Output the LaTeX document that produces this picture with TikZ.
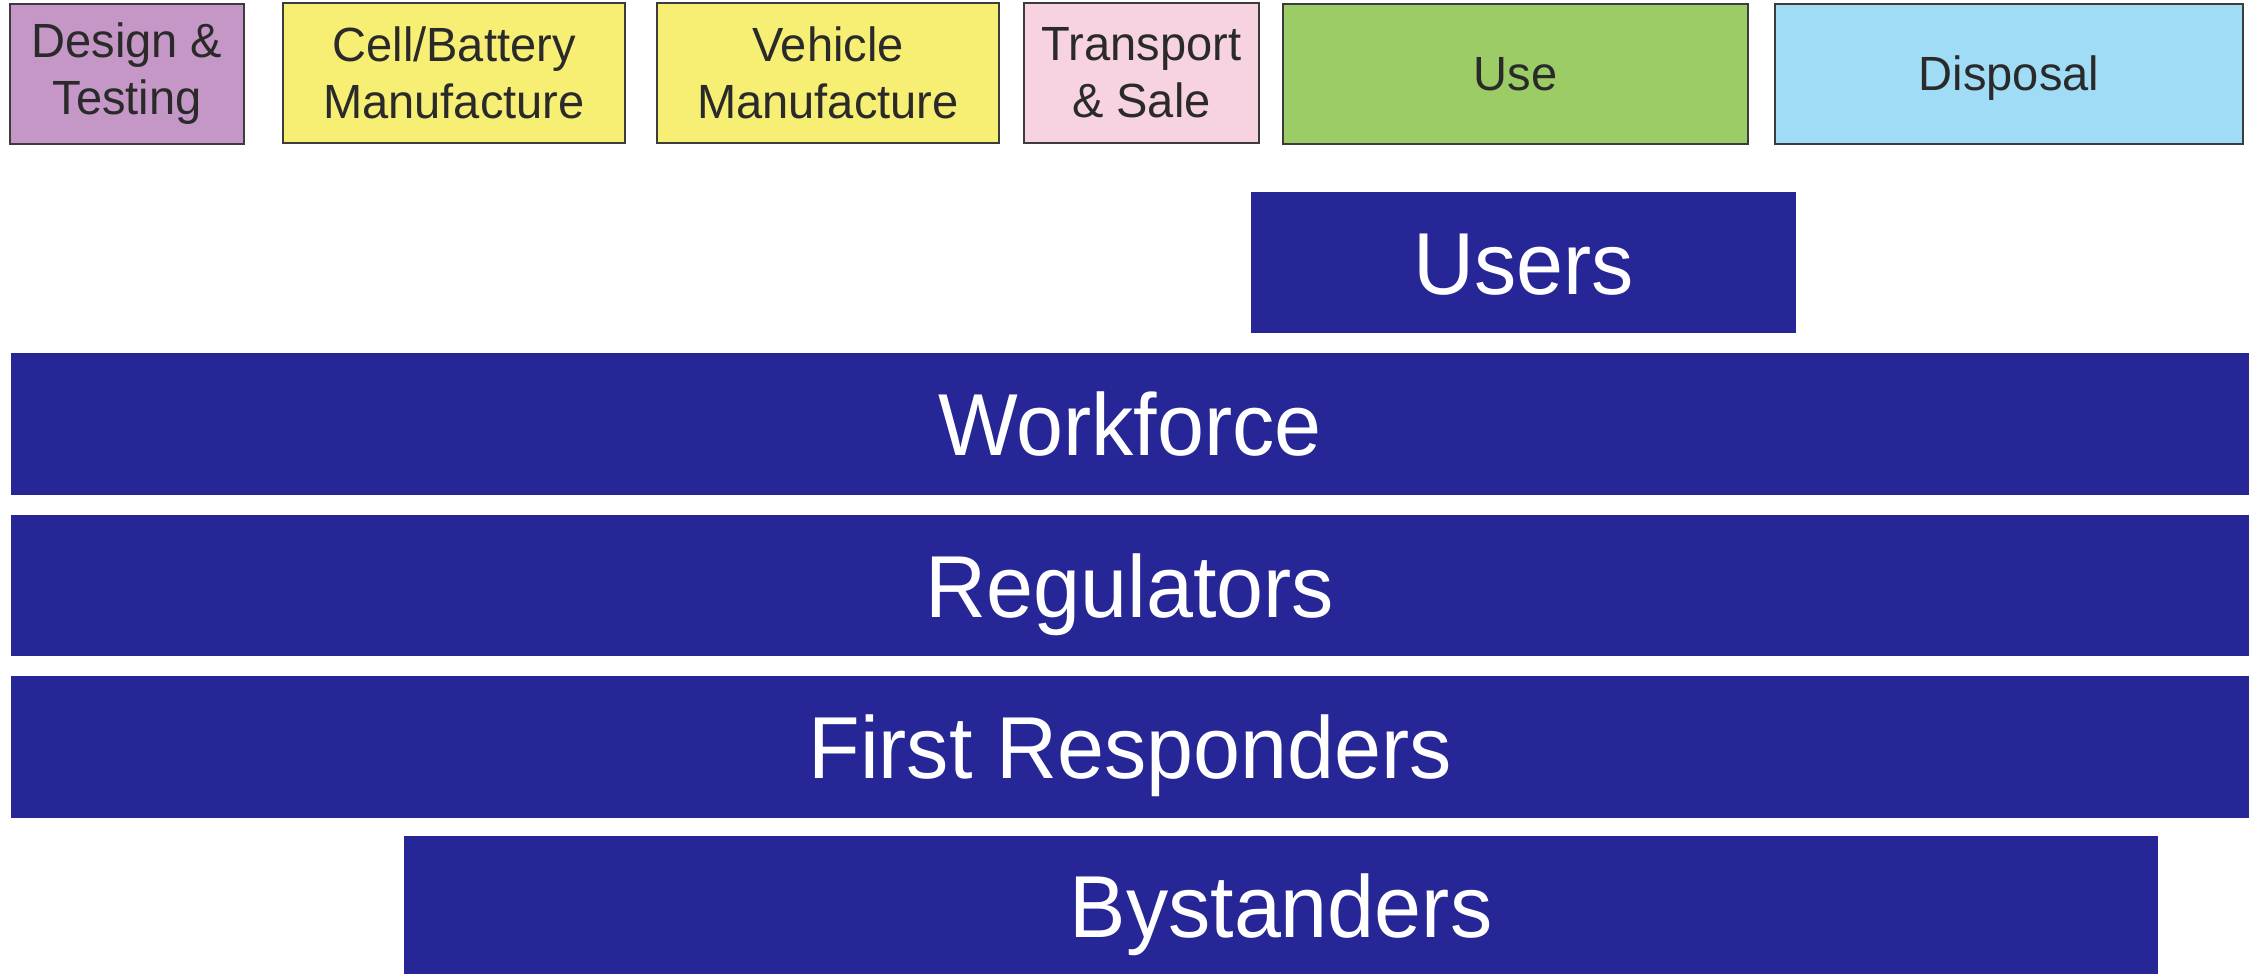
\documentclass[tikz,border=0pt]{standalone}
\usepackage{fontspec}
\setmainfont{Liberation Sans}
\newfontfamily\barfont[FakeStretch=0.96]{Liberation Sans}
\newfontfamily\phasefont[FakeStretch=0.98]{Liberation Sans}
\definecolor{navy}{HTML}{262696}
\definecolor{cpurple}{HTML}{C497C7}
\definecolor{cyellow}{HTML}{F7EF73}
\definecolor{cpink}{HTML}{F7D3E1}
\definecolor{cgreen}{HTML}{9CCC66}
\definecolor{cblue}{HTML}{A0DCF5}
\definecolor{edge}{HTML}{3C3C3C}
\definecolor{ink}{HTML}{2A2A2A}
\tikzset{
  phase/.style={draw=edge, line width=2pt, inner sep=0pt, align=center,
    text=ink, font=\phasefont\fontsize{48}{57}\selectfont, minimum height=140pt},
  oneline/.style={text height=34pt, text depth=0pt},
  group/.style={fill=navy, draw=none, inner sep=0pt, text=white,
    font=\barfont\fontsize{88}{96}\selectfont, text height=63pt, text depth=0pt}
}
\begin{document}
\begin{tikzpicture}[x=1pt,y=-1pt]
\useasboundingbox (0,0) rectangle (2249,974);
\fill[white] (0,0) rectangle (2249,974);
% phases
\node[phase, fill=cpurple, minimum width=234pt] (design) at (127,74) {Design \&\\Testing};
\node[phase, fill=cyellow, minimum width=342pt] (cell) at (454,73) {Cell/Battery\\Manufacture};
\node[phase, fill=cyellow, minimum width=342pt] (vehicle) at (828,73) {Vehicle\\Manufacture};
\node[phase, fill=cpink, minimum width=235pt] (transport) at (1141.5,73) {Transport\\\& Sale};
\node[phase, oneline, fill=cgreen, minimum width=465pt] (use) at (1515.5,74) {Use};
\node[phase, oneline, fill=cblue, minimum width=468pt] (disposal) at (2009,74) {Disposal};
% stakeholder groups
\node[group, minimum width=545pt, minimum height=141pt] (users) at (1523.5,262.5) {Users};
\node[group, minimum width=2238pt, minimum height=142pt] (workforce) at (1130,424) {Workforce};
\node[group, minimum width=2238pt, minimum height=141pt] (regulators) at (1130,585.5) {Regulators};
\node[group, minimum width=2238pt, minimum height=142pt] (responders) at (1130,747) {First Responders};
\node[group, minimum width=1754pt, minimum height=140pt] (bystanders) at (1281,906) {Bystanders};
\end{tikzpicture}
\end{document}
